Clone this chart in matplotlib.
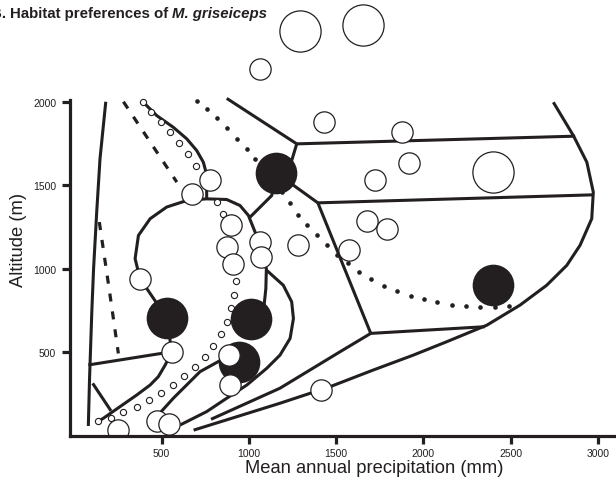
import matplotlib
matplotlib.use("Agg")
import matplotlib.pyplot as plt
from matplotlib.patches import Rectangle

plt.rcParams["font.family"] = ["Liberation Sans", "DejaVu Sans"]
plt.rcParams["lines.scale_dashes"] = False

INK = "#231f20"

# zone boundaries: precipitation (mm) vs altitude (m)
west_edge_x = [180, 147, 128, 110, 100, 87, 80]
west_edge_y = [2000, 1660, 1340, 1000, 745, 345, 60]
west_spur_x = [80, 558]
west_spur_y = [425, 504]
west_stub_x = [105, 210]
west_stub_y = [315, 150]
west_arc_x = [558, 520, 481, 434, 357, 262, 166, 128]
west_arc_y = [504, 424, 355, 305, 245, 176, 106, 82]
loop_x = [376, 348, 367, 434, 529, 644, 758, 873, 949, 997, 1035, 1064,
          1070, 1100, 1097, 1087, 1011]
loop_y = [942, 1061, 1200, 1300, 1370, 1409, 1419, 1415, 1379, 1320, 1221,
          1161, 1079, 1002, 882, 783, 703]
loop_link_x = [376, 529, 558]
loop_link_y = [942, 707, 504]
north_arc_x = [392, 472, 567, 644, 701, 739, 754, 777, 758, 758]
north_arc_y = [2000, 1917, 1847, 1778, 1708, 1638, 1579, 1529, 1469, 1419]
ridge_top_x = [873, 1274]
ridge_top_y = [2020, 1748]
ridge_mid_x = [1274, 1245, 1156, 1131, 1007]
ridge_mid_y = [1748, 1648, 1575, 1439, 1310]
band_upper_x = [1274, 2869]
band_upper_y = [1748, 1794]
spur_east_x = [1156, 1395]
spur_east_y = [1575, 1395]
band_mid_x = [1395, 2973]
band_mid_y = [1395, 1443]
split_x = [1395, 1698]
split_y = [1395, 614]
band_low_x = [1698, 2353]
band_low_y = [614, 654]
split_sw_x = [1698, 1522, 1178, 783]
split_sw_y = [614, 504, 286, 100]
east_edge_x = [2744, 2859, 2936, 2973, 2964, 2897, 2821, 2706, 2553, 2363,
               2133, 1942, 1713, 1465, 1178, 683]
east_edge_y = [1997, 1797, 1638, 1459, 1300, 1141, 1021, 902, 783, 663,
               564, 484, 395, 295, 196, 35]
c_arc_x = [1102, 1197, 1245, 1255, 1236, 1178, 1102, 988, 873, 758, 663, 606]
c_arc_y = [991, 902, 803, 703, 584, 484, 405, 305, 226, 146, 96, 66]
valley_x = [475, 567, 720, 892]
valley_y = [120, 226, 385, 484]

# dashed boundaries
dash_upper_x = [281, 587]
dash_upper_y = [2000, 1519]
dash_lower_x = [143, 199, 252]
dash_lower_y = [1280, 882, 494]

# dotted trend (filled dots)
dots_x = [701, 760, 818, 875, 932, 988, 1035, 1081, 1133, 1188, 1236, 1282,
          1331, 1389, 1446, 1505, 1568, 1631, 1698, 1774, 1847, 1927, 2003,
          2078, 2164, 2244, 2324, 2410, 2492]
dots_y = [2006, 1957, 1903, 1843, 1778, 1718, 1658, 1598, 1533, 1459, 1394,
          1324, 1260, 1200, 1141, 1085, 1037, 984, 938, 900, 866, 840, 817,
          799, 782, 776, 773, 773, 775]

# dotted trend (small open rings)
rings_x = [392, 439, 495, 548, 600, 650, 695, 819, 854, 883, 901, 915, 925,
           917, 896, 873, 839, 793, 747, 691, 628, 564, 495, 430, 357, 281,
           208, 137]
rings_y = [2000, 1941, 1877, 1818, 1754, 1686, 1618, 1403, 1330, 1228, 1121,
           1020, 926, 842, 763, 683, 608, 538, 475, 412, 359, 305, 260, 214,
           176, 144, 106, 87]

# records
present_x = [1156, 529, 1011, 945, 2397]
present_y = [1575, 707, 703, 440, 906]
absent_small_x = [1430, 1879, 1917, 1723, 1679, 1793, 1283, 1574, 1412, 777,
                  676, 896, 876, 911, 1064, 1070, 376, 558, 888, 892, 475,
                  544, 252, 1064]
absent_small_y = [1877, 1818, 1634, 1533, 1284, 1240, 1141, 1111, 275, 1529,
                  1449, 1260, 1131, 1031, 1161, 1071, 942, 504, 484, 305, 87,
                  70, 36, 2195]
absent_large_x = [2397, 1293, 1652]
absent_large_y = [1579, 2424, 2458]

x_ticks = [500, 1000, 1500, 2000, 2500, 3000]
y_ticks = [500, 1000, 1500, 2000]

fig = plt.figure(figsize=(6.16, 4.81), dpi=100)
ax = fig.add_axes([70 / 616, 44 / 481, 546 / 616, 335.6 / 481])
ax.set_xlim(-25, 3103)
ax.set_ylim(0, 2008)

solid = [(west_edge_x, west_edge_y), (west_spur_x, west_spur_y),
         (west_stub_x, west_stub_y), (west_arc_x, west_arc_y),
         (loop_x, loop_y), (loop_link_x, loop_link_y),
         (north_arc_x, north_arc_y), (ridge_top_x, ridge_top_y),
         (ridge_mid_x, ridge_mid_y), (band_upper_x, band_upper_y),
         (spur_east_x, spur_east_y), (band_mid_x, band_mid_y),
         (split_x, split_y), (band_low_x, band_low_y),
         (split_sw_x, split_sw_y), (east_edge_x, east_edge_y),
         (c_arc_x, c_arc_y), (valley_x, valley_y)]
for xs, ys in solid:
    ax.plot(xs, ys, color=INK, lw=2.2, solid_joinstyle="round",
            solid_capstyle="butt", clip_on=False, zorder=2)

for xs, ys in [(dash_upper_x, dash_upper_y), (dash_lower_x, dash_lower_y)]:
    ax.plot(xs, ys, color=INK, lw=2.3, dashes=(5.8, 7.2),
            dash_capstyle="butt", clip_on=False, zorder=2)

# let markers spill above the frame but stay cut at the x axis
clip = Rectangle((0, 0), 1, 1.6, transform=ax.transAxes)

layers = [
    ax.scatter(dots_x, dots_y, s=11, color=INK, lw=0, zorder=3),
    ax.scatter(rings_x, rings_y, s=20, facecolor="white", edgecolor=INK,
               lw=0.8, zorder=3),
    ax.scatter(present_x, present_y, s=900, color=INK, lw=0, zorder=4),
    ax.scatter(absent_small_x, absent_small_y, s=235, facecolor="white",
               edgecolor=INK, lw=0.9, zorder=5),
    ax.scatter(absent_large_x, absent_large_y, s=880, facecolor="white",
               edgecolor=INK, lw=0.9, zorder=5),
]
for layer in layers:
    layer.set_clip_path(clip)

for side in ["top", "right"]:
    ax.spines[side].set_visible(False)
for side in ["left", "bottom"]:
    ax.spines[side].set_linewidth(2.3)
    ax.spines[side].set_color(INK)
    ax.spines[side].set_zorder(6)

ax.set_xticks(x_ticks)
ax.set_yticks(y_ticks)
ax.tick_params(axis="both", direction="out", length=5.5, width=2.3,
               color=INK, labelcolor=INK, labelsize=7.5)
ax.tick_params(axis="x", pad=3)
ax.tick_params(axis="y", pad=4.5)

ax.set_xlabel("Mean annual precipitation (mm)", fontsize=13.2, color=INK)
ax.set_ylabel("Altitude (m)", fontsize=13.2, color=INK)
ax.xaxis.set_label_coords(0.558, -0.07)
ax.yaxis.set_label_coords(-0.078, 0.587)

# panel heading, species name in bold italic
title_y = 1 - 18.3 / 481
head = fig.text(10 / 616, title_y, "Habitat preferences of ", fontsize=10.8,
                weight="bold", color=INK, va="baseline", ha="left")
fig.text(5.8 / 616, title_y, "B.", fontsize=10.8, weight="bold", color=INK,
         va="baseline", ha="right")
fig.canvas.draw()
bb = head.get_window_extent()
fig.text(bb.x1 / fig.bbox.width, title_y, "M. griseiceps", fontsize=10.8,
         weight="bold", style="italic", color=INK, va="baseline", ha="left")

fig.savefig("out.png", dpi=100)
